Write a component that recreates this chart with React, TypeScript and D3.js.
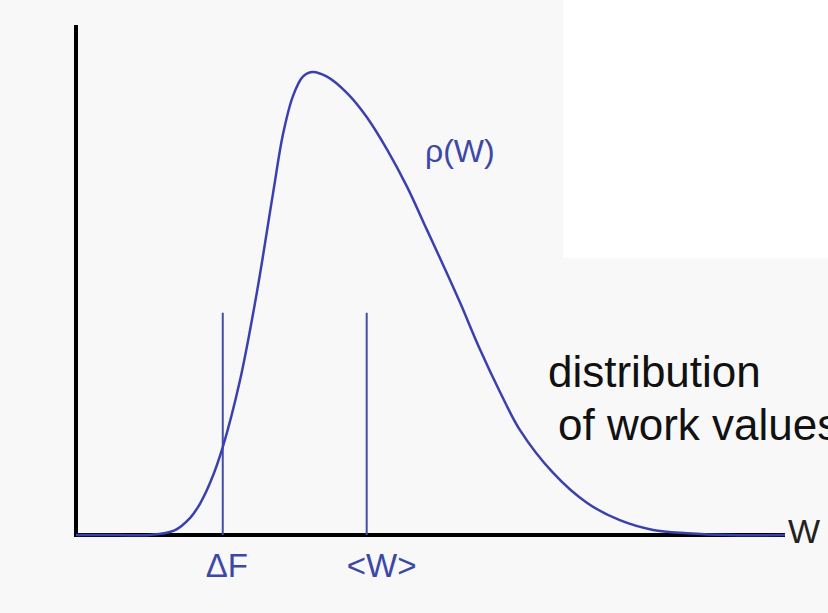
import React from 'react';
import * as d3 from 'd3';

// work values W (arbitrary units) and density rho(W), peak normalised to 1
const workValues = [0, 0.6, 1.04, 1.39, 1.61, 1.75, 1.9, 2.07, 2.31, 2.55, 2.78, 2.92, 3.06, 3.2, 3.33, 3.54, 3.82, 4.1, 4.39, 4.67, 4.95, 5.23, 5.42, 5.7, 5.98, 6.26, 6.73, 7.21, 7.67, 8.14, 8.62, 9.22, 10];
const density = [0, 0, 0, 0.01, 0.037, 0.068, 0.116, 0.19, 0.332, 0.523, 0.739, 0.866, 0.948, 0.99, 1.0, 0.99, 0.955, 0.903, 0.832, 0.752, 0.659, 0.566, 0.501, 0.4, 0.309, 0.227, 0.134, 0.069, 0.032, 0.011, 0.004, 0, 0];

const markers = [
  { label: '\u0394F', w: 2.07, dx: 4 },
  { label: '<W>', w: 4.1, dx: 15 },
];
const markerHeight = 0.48;

const blue = '#3a40ae';
const markerBlue = '#444ca6';
const textBlue = '#3d48a6';

export default function App() {
  const width = 828;
  const height = 613;

  const x = d3.scaleLinear().domain([0, 10]).range([76, 785]);
  const y = d3.scaleLinear().domain([0, 1]).range([535, 72]);

  const pts = workValues.map((w, i) => [w, density[i]] as [number, number]);
  const line = d3.line<[number, number]>()
    .x(d => x(d[0]))
    .y(d => y(d[1]))
    .curve(d3.curveCatmullRom.alpha(0.5));

  return (
    <svg width={width} height={height} style={{ position: 'absolute', left: 0, top: 0 }}
      fontFamily="'Liberation Sans', Arial, sans-serif">
      <rect x={0} y={0} width={width} height={height} fill="#f8f8f8" />
      <rect x={563} y={0} width={width - 563} height={258} fill="#ffffff" />

      {/* axes */}
      <line x1={x(0)} y1={25} x2={x(0)} y2={y(0) + 2} stroke="#000" strokeWidth={4} />
      <line x1={x(0)} y1={y(0)} x2={x(10)} y2={y(0)} stroke="#000" strokeWidth={4} />

      {/* markers */}
      {markers.map(m => (
        <g key={m.label}>
          <line x1={x(m.w)} y1={y(markerHeight)} x2={x(m.w)} y2={y(0)} stroke={markerBlue} strokeWidth={2} />
          <text x={x(m.w) + m.dx} y={577} textAnchor="middle" fontSize={33} fill={textBlue}>{m.label}</text>
        </g>
      ))}

      {/* distribution */}
      <path d={line(pts) || ''} fill="none" stroke={blue} strokeWidth={2.5} />

      <text x={425} y={162} fontSize={32} fill={textBlue}>ρ(W)</text>
      <text x={788} y={543} fontSize={34} fill="#222">W</text>
      <text x={548} y={387} fontSize={44} fill="#111">distribution</text>
      <text x={558} y={440} fontSize={44} fill="#111">of work values</text>
    </svg>
  );
}
